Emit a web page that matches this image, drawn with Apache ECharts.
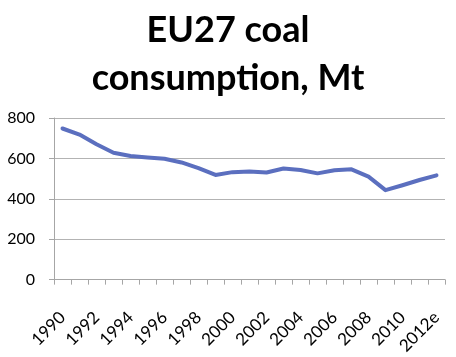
<!DOCTYPE html>
<html>
<head>
<meta charset="utf-8">
<script src="https://cdn.jsdelivr.net/npm/echarts@6/dist/echarts.min.js"></script>
<style>html,body{margin:0;padding:0;background:#fff}#c{width:456px;height:357px}</style>
</head>
<body>
<div id="c"></div>
<script>
const categories = ['1990','1991','1992','1993','1994','1995','1996','1997','1998','1999','2000','2001','2002','2003','2004','2005','2006','2007','2008','2009','2010','2011','2012e'];
const consumption = [748, 718, 670, 628, 612, 605, 598, 580, 552, 518, 532, 535, 530, 550, 543, 526, 541, 546, 510, 443, 467, 493, 516];
const yTicks = [0, 200, 400, 600, 800];

const chart = echarts.init(document.getElementById('c'), null, {renderer: 'canvas'});
chart.setOption({
  animation: false,
  backgroundColor: '#ffffff',
  title: {
    text: 'EU27 coal\nconsumption, Mt',
    left: 'center',
    top: 6,
    padding: 0,
    textStyle: {
      fontFamily: 'Lato',
      fontWeight: 'bold',
      fontSize: 36,
      lineHeight: 48,
      color: '#000000'
    }
  },
  grid: {left: 54, right: 11, top: 118, bottom: 76, containLabel: false},
  xAxis: {
    type: 'category',
    data: categories,
    boundaryGap: true,
    axisLine: {show: true, lineStyle: {color: '#a6a6a6', width: 1}},
    axisTick: {show: true, interval: 0, length: 5, lineStyle: {color: '#a6a6a6'}},
    axisLabel: {
      interval: 1,
      rotate: 45,
      margin: 35,
      padding: [23, 0, 0, 0],
      fontFamily: 'Lato',
      fontSize: 17,
      color: '#000000'
    },
    splitLine: {show: false}
  },
  yAxis: {
    type: 'value',
    min: yTicks[0],
    max: yTicks[yTicks.length - 1],
    interval: 200,
    axisLine: {show: true, lineStyle: {color: '#a6a6a6', width: 1}},
    axisTick: {show: true, length: 5, lineStyle: {color: '#a6a6a6'}},
    axisLabel: {
      margin: 19,
      fontFamily: 'Lato',
      fontSize: 16,
      color: '#000000'
    },
    splitLine: {show: true, lineStyle: {color: '#b3b3b3', width: 1}}
  },
  series: [{
    type: 'line',
    data: consumption,
    symbol: 'none',
    lineStyle: {color: '#5b6fbf', width: 4, join: 'round', cap: 'round'},
    itemStyle: {color: '#5b6fbf'}
  }]
});
</script>
</body>
</html>
